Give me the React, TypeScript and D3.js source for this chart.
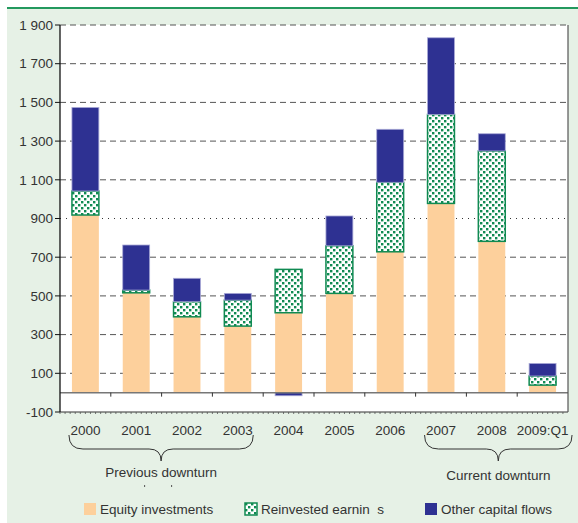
import React, { useEffect, useRef } from "react";
import * as d3 from "d3";

// values (USD bn-ish)
const categories = ["2000", "2001", "2002", "2003", "2004", "2005", "2006", "2007", "2008", "2009:Q1"];
const equity = [918, 516, 392, 344, 413, 513, 728, 978, 782, 39];
const reinvested = [124, 14, 78, 134, 224, 246, 359, 460, 467, 47];
const otherFlows = [432, 233, 121, 35, -16, 154, 274, 396, 89, 65];
const yTicks = [-100, 100, 300, 500, 700, 900, 1100, 1300, 1500, 1700, 1900];
const seriesNames = ["Equity investments", "Reinvested earnin  s", "Other capital flows"];

const W = 578;
const H = 523;
const margin = { top: 25, right: 10, bottom: 111, left: 60 };

const App = () => {
  const svgRef = useRef<SVGSVGElement>(null);

  useEffect(() => {
    const svg = d3.select(svgRef.current).attr("width", W).attr("height", H);
    svg.selectAll("*").remove();

    const font = "'Liberation Sans', Arial, sans-serif";
    const textColor = "#333";
    const fs = 13.5;
    const colors = ["#fdd09c", "url(#dots)", "#2e3192"];

    // dotted pattern for reinvested earnings
    const defs = svg.append("defs");
    const pat = defs
      .append("pattern")
      .attr("id", "dots")
      .attr("patternUnits", "userSpaceOnUse")
      .attr("width", 6)
      .attr("height", 6);
    pat.append("rect").attr("width", 6).attr("height", 6).attr("fill", "#fff");
    pat.append("rect").attr("x", 0).attr("y", 0).attr("width", 2.4).attr("height", 2.4).attr("fill", "#108a52");
    pat.append("rect").attr("x", 3).attr("y", 3).attr("width", 2.4).attr("height", 2.4).attr("fill", "#108a52");

    // panel background
    svg.append("rect").attr("x", 7).attr("y", 9).attr("width", W - 7).attr("height", H - 9).attr("fill", "#e6f1e6");
    svg.append("rect").attr("x", 7).attr("y", 7).attr("width", W - 7).attr("height", 2).attr("fill", "#23995e");

    const x = d3
      .scaleBand()
      .domain(categories)
      .range([margin.left, W - margin.right])
      .paddingInner(0.47)
      .paddingOuter(0.235);

    const y = d3
      .scaleLinear()
      .domain([-100, 1900])
      .range([H - margin.bottom, margin.top]);

    const left = margin.left;
    const right = W - margin.right;

    // plot area
    svg
      .append("rect")
      .attr("x", left)
      .attr("y", y(1900))
      .attr("width", right - left)
      .attr("height", y(-100) - y(1900))
      .attr("fill", "#fff");

    // grid
    svg
      .append("g")
      .selectAll("line")
      .data(yTicks.filter((t) => t > 0))
      .join("line")
      .attr("x1", left)
      .attr("x2", right)
      .attr("y1", (d) => y(d))
      .attr("y2", (d) => y(d))
      .attr("stroke", (d) => (d === 900 ? "#333" : "#555"))
      .attr("stroke-width", (d) => (d === 900 ? 1.2 : 1))
      .attr("stroke-dasharray", (d) => (d === 900 ? "1,5" : "6,4"));

    // stacked bars
    const rows = categories.map((c, i) => ({
      cat: c,
      equity: equity[i],
      reinvested: reinvested[i],
      other: otherFlows[i],
    }));
    const stack = d3
      .stack<any>()
      .keys(["equity", "reinvested", "other"])
      .offset(d3.stackOffsetDiverging);
    const layers = stack(rows);

    layers.forEach((layer, li) => {
      svg
        .append("g")
        .selectAll("rect")
        .data(layer)
        .join("rect")
        .attr("x", (d: any) => x(d.data.cat)!)
        .attr("width", x.bandwidth())
        .attr("y", (d) => y(Math.max(d[0], d[1])))
        .attr("height", (d) => Math.abs(y(d[0]) - y(d[1])))
        .attr("fill", colors[li])
        .attr("stroke", li === 1 ? "#108a52" : li === 2 ? "#a9a9d6" : "none")
        .attr("stroke-width", li === 1 ? 1.5 : 0.8);
    });

    // zero axis with separators
    svg
      .append("line")
      .attr("x1", left)
      .attr("x2", right)
      .attr("y1", y(0))
      .attr("y2", y(0))
      .attr("stroke", "#777")
      .attr("stroke-width", 1.5);
    svg
      .append("g")
      .selectAll("line")
      .data(categories.slice(1))
      .join("line")
      .attr("x1", (d) => x(d)! - (x.step() - x.bandwidth()) / 2)
      .attr("x2", (d) => x(d)! - (x.step() - x.bandwidth()) / 2)
      .attr("y1", y(0))
      .attr("y2", y(0) + 4)
      .attr("stroke", "#333");

    // bottom frame with minor ticks
    svg
      .append("line")
      .attr("x1", left)
      .attr("x2", right)
      .attr("y1", y(-100))
      .attr("y2", y(-100))
      .attr("stroke", "#333")
      .attr("stroke-width", 1.2);
    svg
      .append("g")
      .selectAll("line")
      .data(d3.range(left, right, x.step() / 10))
      .join("line")
      .attr("x1", (d) => d)
      .attr("x2", (d) => d)
      .attr("y1", y(-100))
      .attr("y2", y(-100) + 2)
      .attr("stroke", "#555")
      .attr("stroke-width", 0.8);

    // left axis & right border
    svg.append("line").attr("x1", left).attr("x2", left).attr("y1", y(1900)).attr("y2", y(-100)).attr("stroke", "#111").attr("stroke-width", 1.3);
    svg.append("line").attr("x1", right).attr("x2", right).attr("y1", y(1900)).attr("y2", y(-100)).attr("stroke", "#555").attr("stroke-width", 1.2);

    const yAxis = svg.append("g");
    yAxis
      .selectAll("line")
      .data(yTicks)
      .join("line")
      .attr("x1", left - 5)
      .attr("x2", left)
      .attr("y1", (d) => y(d))
      .attr("y2", (d) => y(d))
      .attr("stroke", "#111");
    yAxis
      .selectAll("text")
      .data(yTicks)
      .join("text")
      .attr("x", left - 7)
      .attr("y", (d) => y(d))
      .attr("dy", "0.35em")
      .attr("text-anchor", "end")
      .attr("font-family", font)
      .attr("font-size", fs)
      .attr("fill", textColor)
      .text((d) => String(d).replace(/\B(?=(\d{3})+$)/, " "));

    // category labels
    svg
      .append("g")
      .selectAll("text")
      .data(categories)
      .join("text")
      .attr("x", (d) => x(d)! + x.bandwidth() / 2)
      .attr("y", y(-100) + 23)
      .attr("text-anchor", "middle")
      .attr("font-family", font)
      .attr("font-size", fs)
      .attr("fill", textColor)
      .text((d) => d);

    // braces
    const brace = (x0: number, x1: number, top: number) => {
      const xm = (x0 + x1) / 2;
      const mid = top + 14;
      const tip = top + 26;
      return `M${x0},${top} Q${x0},${mid} ${x0 + 14},${mid} L${xm - 12},${mid} Q${xm},${mid} ${xm},${tip} Q${xm},${mid} ${xm + 12},${mid} L${x1 - 14},${mid} Q${x1},${mid} ${x1},${top}`;
    };
    const braceTop = y(-100) + 23;
    const groups = [
      { from: "2000", to: "2003", label: "Previous downturn", extra: 2, dy: 42 },
      { from: "2007", to: "2009:Q1", label: "Current downturn", extra: 16, dy: 45 },
    ];
    groups.forEach((g, gi) => {
      const x0 = x(g.from)! - 3;
      const x1 = x(g.to)! + x.bandwidth() + g.extra;
      const xm = (x0 + x1) / 2;
      svg
        .append("path")
        .attr("d", brace(x0, x1, braceTop))
        .attr("fill", "none")
        .attr("stroke", "#333")
        .attr("stroke-width", 1);
      svg
        .append("text")
        .attr("x", xm)
        .attr("y", braceTop + g.dy)
        .attr("text-anchor", "middle")
        .attr("font-family", font)
        .attr("font-size", fs)
        .attr("fill", textColor)
        .text(g.label);
      if (gi === 0) {
        // two faint specks under the first label
        [-17, 10].forEach((dx) =>
          svg
            .append("rect")
            .attr("x", xm + dx)
            .attr("y", braceTop + 50)
            .attr("width", 1)
            .attr("height", 2)
            .attr("fill", "#555")
        );
      }
    });

    // legend
    const legendX = [84, 245, 425];
    const legend = svg
      .append("g")
      .selectAll("g")
      .data(seriesNames)
      .join("g")
      .attr("transform", (d, i) => `translate(${legendX[i]},503)`);
    legend
      .append("rect")
      .attr("width", 12)
      .attr("height", 12)
      .attr("fill", (d, i) => colors[i])
      .attr("stroke", (d, i) => (i === 1 ? "#108a52" : "none"))
      .attr("stroke-width", 1.5);
    legend
      .append("text")
      .attr("x", 16)
      .attr("y", 11)
      .attr("font-family", font)
      .attr("font-size", fs)
      .attr("fill", textColor)
      .style("white-space", "pre")
      .text((d) => d);
  }, []);

  return (
    <div style={{ position: "absolute", left: 0, top: 0 }}>
      <svg ref={svgRef} />
    </div>
  );
};

export default App;
